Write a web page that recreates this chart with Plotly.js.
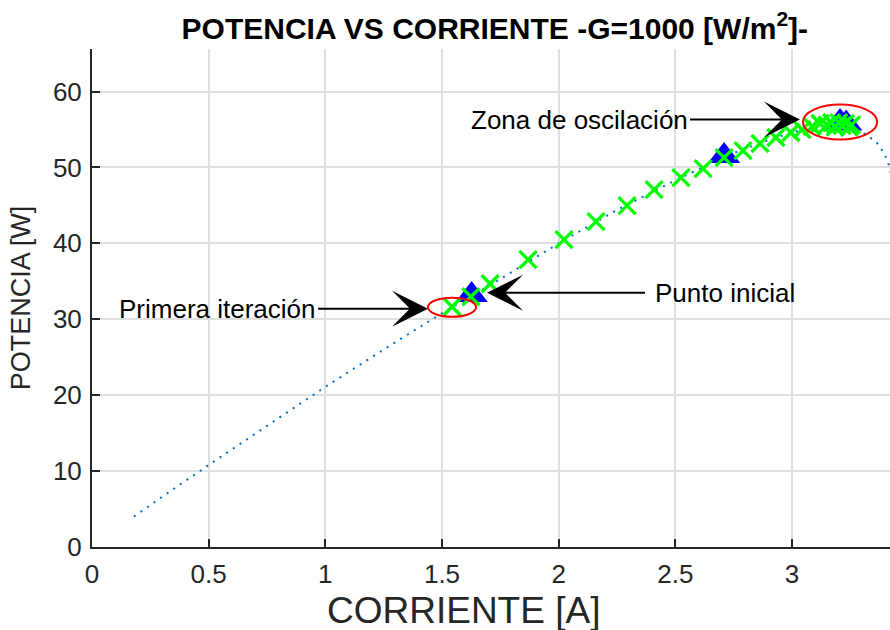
<!DOCTYPE html>
<html>
<head>
<meta charset="utf-8">
<script src="https://cdn.plot.ly/plotly-3.0.1.min.js"></script>
<style>html,body{margin:0;padding:0;background:#fff;}#chart{width:890px;height:630px;}</style>
</head>
<body>
<div id="chart"></div>
<script>
// P-I curve of the panel
var curveI = [0.18, 0.30, 0.50, 0.75, 1.00, 1.25, 1.50, 1.75, 2.00, 2.25, 2.50, 2.75, 2.90, 3.00, 3.10, 3.20, 3.25, 3.28, 3.32, 3.36, 3.38, 3.40, 3.415, 3.43];
var curveP = [4.0, 6.6, 10.8, 16.0, 21.1, 26.0, 30.8, 35.3, 40.0, 44.4, 48.3, 51.9, 53.6, 54.6, 55.5, 56.0, 55.7, 55.1, 54.3, 53.4, 52.6, 51.5, 50.3, 48.5];

// MPPT iterations (green crosses)
var iterI = [1.543, 1.624, 1.706, 1.869, 2.023, 2.160, 2.293, 2.409, 2.524, 2.619, 2.709, 2.790, 2.863, 2.931, 2.995, 3.043, 3.086, 3.120, 3.150, 3.170, 3.185, 3.200, 3.215, 3.230, 3.245, 3.255];
var iterP = [31.65, 32.97, 34.68, 37.85, 40.48, 42.86, 44.97, 47.08, 48.66, 49.85, 51.30, 52.22, 53.15, 53.94, 54.60, 54.99, 55.39, 55.79, 55.6, 55.9, 55.3, 55.9, 55.5, 55.8, 55.3, 55.6];

// Blue triangles
var triI = [1.627, 2.709, 3.206, 3.232];
var triP = [33.2, 51.5, 56.0, 55.8];

// Tick values
var xTicks = [0, 0.5, 1, 1.5, 2, 2.5, 3];
var yTicks = [0, 10, 20, 30, 40, 50, 60];

// Annotation texts and anchor points [x, y] of arrow tip and tail
var noteTexts = ['Zona de oscilación', 'Primera iteración', 'Punto inicial'];
var noteTip = [[3.034, 56.3], [1.440, 31.4], [1.693, 33.5]];
var noteTail = [[2.563, 56.3], [0.969, 31.4], [2.370, 33.5]];
var noteAnchor = ['right', 'right', 'left'];
var notePad = [1, 1, 9];

// Red ellipses [x0, x1, y0, y1]
var ellipses = [[1.440, 1.646, 30.33, 32.84], [3.047, 3.365, 53.67, 58.29]];

var FONT = 'Liberation Sans, Arial, sans-serif';
var TXT = '#262626';

var traces = [
  {x: curveI, y: curveP, mode: 'lines', type: 'scatter',
   line: {color: '#0072BD', width: 2, dash: '2px,6px'}, hoverinfo: 'skip'},
  {x: triI, y: triP, mode: 'markers', type: 'scatter',
   marker: {symbol: 'triangle-up', size: 28, color: '#0000FF', line: {width: 0}}},
  {x: iterI, y: iterP, mode: 'markers', type: 'scatter',
   marker: {symbol: 'x-thin-open', size: 17, color: '#00FF00', line: {width: 3.3, color: '#00FF00'}}}
];

var annotations = noteTexts.map(function (t, i) {
  return {
    text: t, x: noteTip[i][0], y: noteTip[i][1], ax: noteTail[i][0], ay: noteTail[i][1],
    xref: 'x', yref: 'y', axref: 'x', ayref: 'y',
    xanchor: noteAnchor[i], yanchor: 'middle', borderpad: notePad[i],
    showarrow: true, arrowhead: 3, arrowsize: 3, arrowwidth: 2, arrowcolor: '#000',
    standoff: 0, startstandoff: 0,
    font: {family: FONT, size: 26, color: '#000'}
  };
});
annotations.push({
  text: 'CORRIENTE [A]', xref: 'paper', yref: 'paper', x: 0.465, y: -0.1285,
  xanchor: 'center', yanchor: 'middle', showarrow: false,
  font: {family: FONT, size: 37, color: TXT}
});

var shapes = ellipses.map(function (e) {
  return {type: 'circle', xref: 'x', yref: 'y', x0: e[0], x1: e[1], y0: e[2], y1: e[3],
          line: {color: '#FF0000', width: 2}, layer: 'above'};
});

var layout = {
  width: 890, height: 630,
  margin: {l: 92, r: 0, t: 49, b: 83},
  paper_bgcolor: '#fff', plot_bgcolor: '#fff',
  showlegend: false,
  title: {text: '<b>POTENCIA VS CORRIENTE -G=1000 [W/m<sup>2</sup>]-</b>',
          font: {family: FONT, size: 30, color: '#000'},
          xref: 'container', yref: 'container', x: 0.556, y: 0.955, xanchor: 'center', yanchor: 'middle'},
  xaxis: {range: [0, 3.42], tickvals: xTicks, ticktext: xTicks.map(String),
          showgrid: true, gridcolor: '#dfdfdf', gridwidth: 2,
          showline: true, linecolor: TXT, linewidth: 2, mirror: false,
          ticks: 'inside', ticklen: 8, tickwidth: 2, tickcolor: TXT, ticklabelstandoff: 3,
          tickfont: {family: FONT, size: 26, color: TXT}, zeroline: false},
  yaxis: {range: [0, 65.6], tickvals: yTicks, ticktext: yTicks.map(String),
          showgrid: true, gridcolor: '#dfdfdf', gridwidth: 2,
          showline: true, linecolor: TXT, linewidth: 2, mirror: false,
          ticks: 'inside', ticklen: 8, tickwidth: 2, tickcolor: TXT, ticklabelstandoff: 3,
          tickfont: {family: FONT, size: 26, color: TXT}, zeroline: false,
          title: {text: 'POTENCIA [W]', font: {family: FONT, size: 27, color: TXT}, standoff: 14}},
  annotations: annotations,
  shapes: shapes
};

Plotly.newPlot('chart', traces, layout, {displayModeBar: false, staticPlot: true});
</script>
</body>
</html>
